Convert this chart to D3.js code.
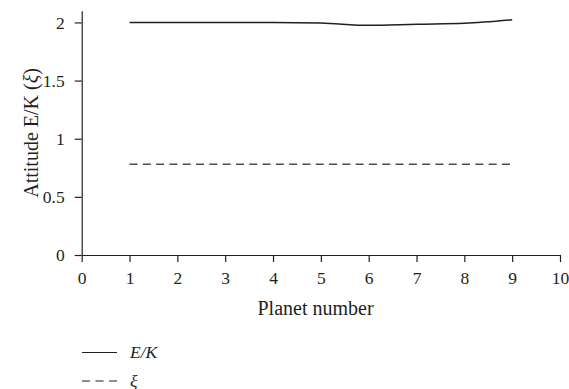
<!DOCTYPE html>
<html>
<head>
<meta charset="utf-8">
<script src="https://cdn.jsdelivr.net/npm/d3@7"></script>
<style>
  html, body { margin: 0; padding: 0; background: #fff; }
  svg text { font-family: "Liberation Serif", "DejaVu Serif", serif; fill: #231f20; }
</style>
</head>
<body>
<svg id="chart" width="569" height="389"></svg>
<script>
// Planet numbers and the two attitude series
const planets = [1, 2, 3, 4, 5, 6, 7, 8, 9];
const ekValues = [2.0, 2.0, 2.0, 2.0, 1.995, 1.975, 1.985, 1.993, 2.022];
const xiValues = [0.78, 0.78, 0.78, 0.78, 0.78, 0.78, 0.78, 0.78, 0.78];
const xTicks = [0, 1, 2, 3, 4, 5, 6, 7, 8, 9, 10];
const yTicks = [0, 0.5, 1, 1.5, 2];

const svg = d3.select("#chart");
const ink = "#231f20";

const x = d3.scaleLinear().domain([0, 10]).range([81.7, 560]);
const y = d3.scaleLinear().domain([0, 2.1]).range([255, 10.8]);

// Axes
const xAxis = d3.axisBottom(x).tickValues(xTicks).tickSize(7).tickSizeOuter(0).tickPadding(10)
  .tickFormat(d3.format("d"));
const yAxis = d3.axisLeft(y).tickValues(yTicks).tickSize(7).tickSizeOuter(0).tickPadding(10)
  .tickFormat(d => String(d));

const gx = svg.append("g").attr("transform", `translate(0,${y(0)})`).call(xAxis);
const gy = svg.append("g").attr("transform", `translate(${x(0)},0)`).call(yAxis);

[gx, gy].forEach(g => {
  g.select(".domain").attr("stroke", ink).attr("stroke-width", 1.2);
  g.selectAll(".tick line").attr("stroke", ink).attr("stroke-width", 1.2);
  g.selectAll(".tick text").attr("font-size", 17.5).attr("font-family", "Liberation Serif").attr("fill", ink);
});

// Axis titles
svg.append("text")
  .attr("x", 315.5)
  .attr("y", 315)
  .attr("text-anchor", "middle")
  .attr("font-size", 20)
  .text("Planet number");

const yTitle = svg.append("text")
  .attr("transform", `translate(38,${(y(0) + y(2.1)) / 2}) rotate(-90)`)
  .attr("text-anchor", "middle")
  .attr("font-size", 20);
yTitle.append("tspan").text("Attitude E/K (");
yTitle.append("tspan").attr("font-style", "italic").text("ξ");
yTitle.append("tspan").text(")");

// Series lines
const ekLine = d3.line()
  .x((d, i) => x(planets[i]))
  .y(d => y(d))
  .curve(d3.curveMonotoneX);

const xiLine = d3.line()
  .x((d, i) => x(planets[i]))
  .y(d => y(d));

svg.append("path")
  .datum(ekValues)
  .attr("d", ekLine)
  .attr("fill", "none")
  .attr("stroke", ink)
  .attr("stroke-width", 1.5);

svg.append("path")
  .datum(xiValues)
  .attr("d", xiLine)
  .attr("fill", "none")
  .attr("stroke", "#4d4d4f")
  .attr("stroke-width", 1.5)
  .attr("stroke-dasharray", "8,5.3");

// Legend
const legend = [
  { label: "E/K", dash: null, ly: 352.5 },
  { label: "ξ", dash: "8,5.5", ly: 381 }
];
const lg = svg.append("g");
legend.forEach(item => {
  lg.append("line")
    .attr("x1", 82).attr("x2", 117)
    .attr("y1", item.ly).attr("y2", item.ly)
    .attr("stroke", ink).attr("stroke-width", 1.2)
    .attr("stroke-dasharray", item.dash);
  lg.append("text")
    .attr("x", 130).attr("y", item.ly + 5.5)
    .attr("font-size", 17.5)
    .attr("font-style", "italic")
    .text(item.label);
});
</script>
</body>
</html>
